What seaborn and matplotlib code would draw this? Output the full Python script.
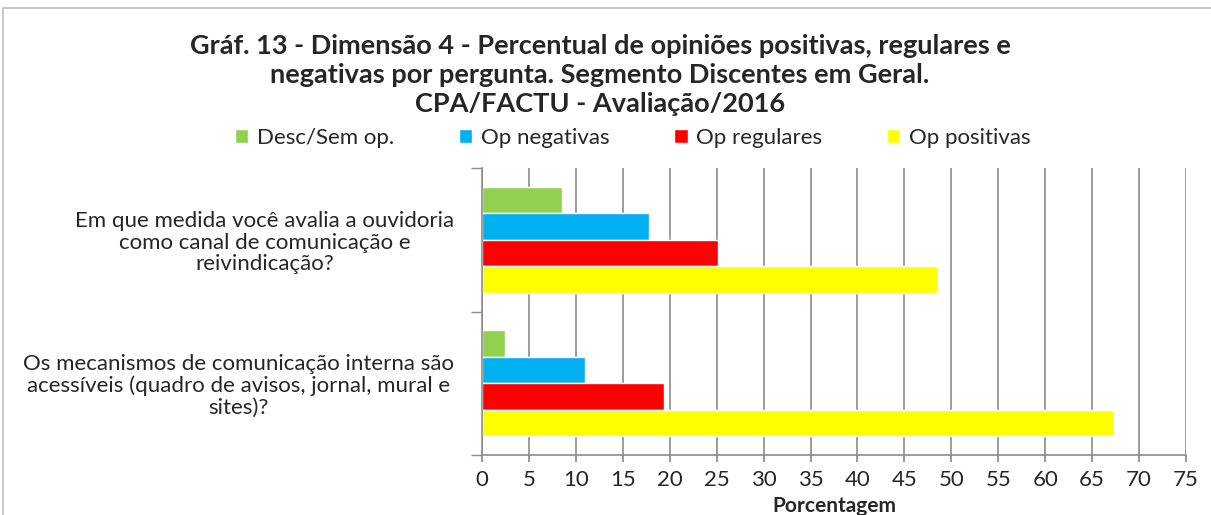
import pandas as pd
import matplotlib.pyplot as plt
import seaborn as sns
from matplotlib.patches import Rectangle

# dados
perguntas = [
    "Em que medida você avalia a ouvidoria\ncomo canal de comunicação e\nreivindicação?",
    "Os mecanismos de comunicação interna são\nacessíveis (quadro de avisos, jornal, mural e\nsites)?",
]
categorias = ["Desc/Sem op.", "Op negativas", "Op regulares", "Op positivas"]
desc_sem_op = [8.5, 2.4]
op_negativas = [17.8, 11.0]
op_regulares = [25.1, 19.4]
op_positivas = [48.6, 67.3]
cores = ["#92D050", "#00B0F0", "#FF0000", "#FFFF00"]
xticks = list(range(0, 80, 5))

linhas = []
for cat, vals in zip(categorias, [desc_sem_op, op_negativas, op_regulares, op_positivas]):
    for p, v in zip(perguntas, vals):
        linhas.append({"Pergunta": p, "Categoria": cat, "Valor": v})
df = pd.DataFrame(linhas)

sns.set_theme(style="white")
plt.rcParams["font.family"] = ["Lato", "DejaVu Sans"]

fig = plt.figure(figsize=(12.11, 5.15), dpi=100)
ax = fig.add_axes([482 / 1211, 1 - 455 / 515, 704 / 1211, 287 / 515])

sns.barplot(data=df, x="Valor", y="Pergunta", hue="Categoria", order=perguntas,
            hue_order=categorias, palette=cores, orient="h", width=0.74,
            saturation=1, ax=ax, legend=True)

ax.set_xlim(0, 75)
ax.set_ylim(1.5, -0.5)
ax.set_xticks(xticks)
ax.set_xticklabels([str(t) for t in xticks], fontsize=16)
ax.grid(axis="x", color="#8c8c8c", linewidth=1.2)
ax.set_axisbelow(True)
for s in ["top", "right"]:
    ax.spines[s].set_visible(False)
for s in ["left", "bottom"]:
    ax.spines[s].set_color("#8c8c8c")
    ax.spines[s].set_linewidth(1.2)
ax.tick_params(axis="x", bottom=True, length=5, color="#8c8c8c", pad=6)
ax.tick_params(axis="y", left=False, pad=14)
ax.set_yticks([-0.5, 0.5, 1.5], minor=True)
ax.tick_params(axis="y", which="minor", left=True, length=8, color="#8c8c8c")
for lbl in ax.get_yticklabels():
    lbl.set_fontsize(16)
    lbl.set_multialignment("center")
    lbl.set_linespacing(1.1)
ax.set_ylabel("")
ax.set_xlabel("Porcentagem", fontsize=15, fontweight="bold")
ax.xaxis.set_label_coords(0.5, -(496 - 455) / 287)

handles, labels = ax.get_legend_handles_labels()
ax.get_legend().remove()
fig.legend(handles, labels, loc="center", bbox_to_anchor=(633 / 1211, 1 - 138 / 515),
           ncol=4, frameon=False, fontsize=16, columnspacing=2.9, handlelength=0.6,
           handleheight=0.6, handletextpad=0.4)

fig.text(600 / 1211, 1 - 75 / 515,
         "Gráf. 13 - Dimensão 4 - Percentual de opiniões positivas, regulares e\n"
         "negativas por pergunta. Segmento Discentes em Geral.\n"
         "CPA/FACTU - Avaliação/2016",
         ha="center", va="center", fontsize=19.5, fontweight="bold", linespacing=1.25)

fig.patches.append(Rectangle((3 / 1211, -0.1), 1.2, 1 - 8 / 515 + 0.1, transform=fig.transFigure,
                             fill=False, edgecolor="#bfbfbf", linewidth=1.2))

plt.savefig("out.png", dpi=100)
